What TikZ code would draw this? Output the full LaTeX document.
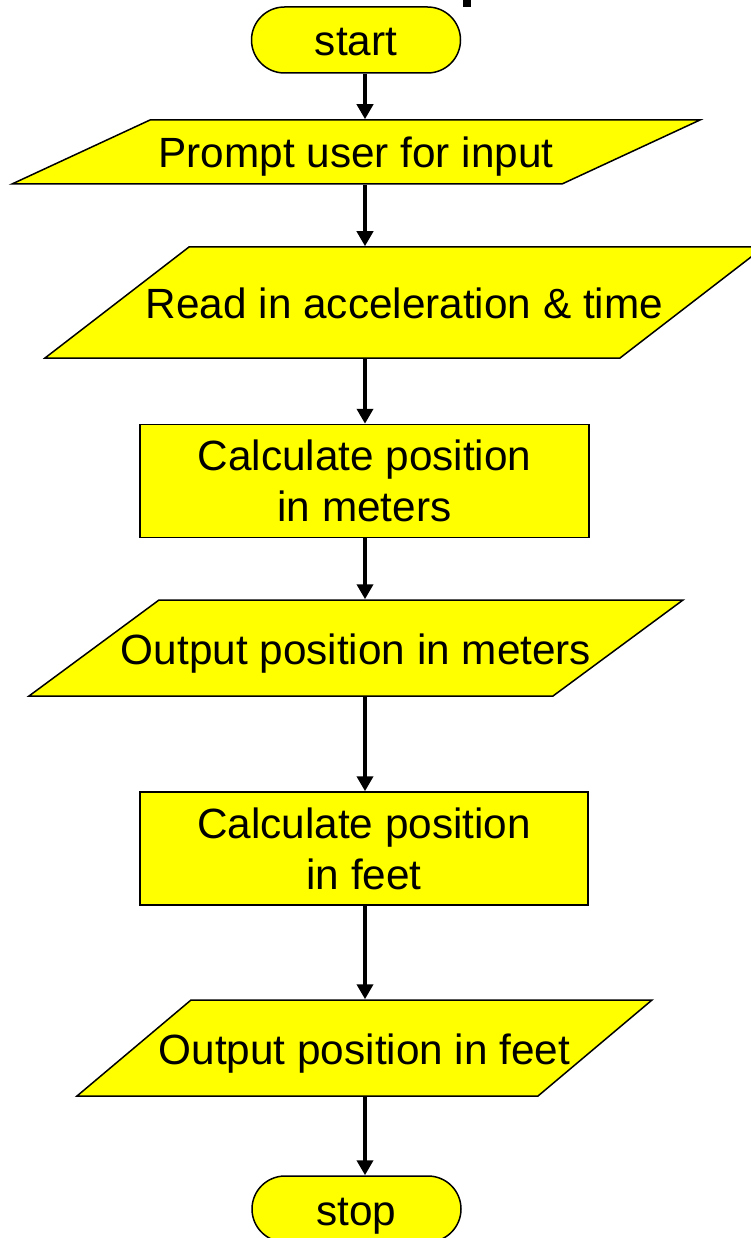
\documentclass[tikz,border=0pt]{standalone}
\usepackage{fontspec}
\setmainfont{Liberation Sans}
\usepackage{tikz}
\usetikzlibrary{arrows.meta}
\definecolor{FCYellow}{RGB}{255,255,0}
\newcommand{\flowfont}{\fontsize{42.3}{51}\selectfont}
% parallelogram: name, x, y, top width, height, slant, text
\newcommand{\iobox}[7]{%
  \draw[io] ({#2-#4/2+#6/2},{#3-#5/2}) -- ({#2+#4/2+#6/2},{#3-#5/2})
    -- ({#2+#4/2-#6/2},{#3+#5/2}) -- ({#2-#4/2-#6/2},{#3+#5/2}) -- cycle;
  \node[iotext, minimum width=#4pt, minimum height=#5pt] (#1) at (#2,#3) {#7};
}

\begin{document}
\begin{tikzpicture}[x=1pt, y=-1pt,
      term/.style={rectangle, rounded corners=33pt, draw=black, line width=1.5pt,
                   fill=FCYellow, minimum width=209pt, minimum height=66pt,
                   inner sep=2pt, text height=41pt, text depth=9pt, font=\flowfont},
      proc/.style={rectangle, draw=black, line width=1.5pt, fill=FCYellow,
                   minimum height=113pt, inner sep=2pt, align=center, font=\flowfont},
      io/.style={draw=black, line width=1.5pt, fill=FCYellow},
      iotext/.style={rectangle, inner sep=2pt, outer sep=0.75pt,
                     text height=41pt, text depth=9pt, font=\flowfont},
      arr/.style={-{Triangle[length=15pt, width=16pt]}, line width=4pt, black}
    ]
    \useasboundingbox (0,0) rectangle (750,1238);

    % cut-off title at the top edge
    \fill[black] (463,0) rectangle (471,7);

    % all arrows run down this line
    \coordinate (axis) at (365,0);

    % Terminals
    \node[term] (start) at (356,40) {start};
    \node[term] (stop) at (356.5,1209) {stop};

    % Input / output
    \iobox{prompt}{356}{152}{550}{64}{138}{Prompt user for input}
    \iobox{read}{404.5}{302.5}{575}{111}{144}{Read in acceleration \& time}
    \iobox{outm}{356}{648}{524}{96}{130}{Output position in meters}
    \iobox{outf}{364.5}{1048}{461}{96}{114}{Output position in feet}

    % Processes
    \node[proc, minimum width=449pt] (calcm) at (364.5,481)
          {Calculate position\\in meters};
    \node[proc, minimum width=448pt] (calcf) at (364,848.5)
          {Calculate position\\in feet};

    % Flow
    \draw[arr] (start.south -| axis) -- (prompt.north -| axis);
    \draw[arr] (prompt.south -| axis) -- (read.north -| axis);
    \draw[arr] (read.south -| axis) -- (calcm.north -| axis);
    \draw[arr] (calcm.south -| axis) -- (outm.north -| axis);
    \draw[arr] (outm.south -| axis) -- (calcf.north -| axis);
    \draw[arr] (calcf.south -| axis) -- (outf.north -| axis);
    \draw[arr] (outf.south -| axis) -- (stop.north -| axis);
  \end{tikzpicture}
\end{document}
